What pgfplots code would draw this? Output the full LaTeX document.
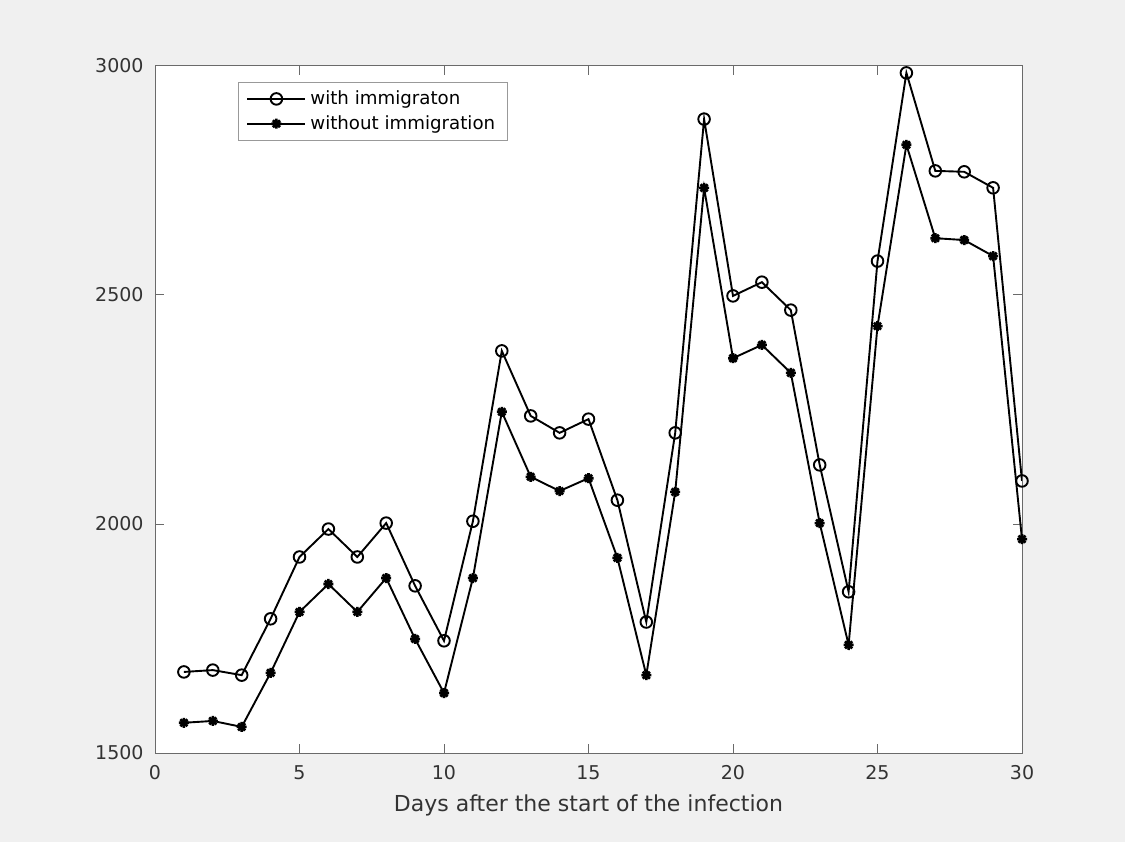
\documentclass[border=0pt]{standalone}
\usepackage{pgfplots}
\pgfplotsset{compat=1.18}
\usepackage{fontspec}
\setmainfont{DejaVu Sans}
\definecolor{figbg}{HTML}{F0F0F0}
\definecolor{axcol}{HTML}{6A6A6A}
\definecolor{txtcol}{HTML}{333333}
\pgfdeclareplotmark{mstar}{%
  \pgfpathmoveto{\pgfpoint{-\pgfplotmarksize}{0pt}}\pgfpathlineto{\pgfpoint{\pgfplotmarksize}{0pt}}%
  \pgfpathmoveto{\pgfpoint{0pt}{-\pgfplotmarksize}}\pgfpathlineto{\pgfpoint{0pt}{\pgfplotmarksize}}%
  \pgfpathmoveto{\pgfpoint{-0.7071\pgfplotmarksize}{-0.7071\pgfplotmarksize}}\pgfpathlineto{\pgfpoint{0.7071\pgfplotmarksize}{0.7071\pgfplotmarksize}}%
  \pgfpathmoveto{\pgfpoint{-0.7071\pgfplotmarksize}{0.7071\pgfplotmarksize}}\pgfpathlineto{\pgfpoint{0.7071\pgfplotmarksize}{-0.7071\pgfplotmarksize}}%
  \pgfusepathqstroke}
\begin{document}
\begin{tikzpicture}
\fill[figbg] (0,0) rectangle (562.5pt,421pt);
\begin{axis}[
  at={(77.5pt,44.5pt)}, anchor=south west,
  scale only axis, width=433.5pt, height=343.5pt,
  axis background/.style={fill=white},
  xmin=0, xmax=30, ymin=1500, ymax=3000,
  xtick={0,5,...,30}, ytick={1500,2000,2500,3000},
  tick align=inside, major tick length=4.3pt,
  axis line style={axcol, line width=0.5pt},
  every tick/.style={axcol, line width=0.5pt},
  tick label style={font=\fontsize{9.5}{11}\selectfont, text=txtcol},
  /pgf/number format/assume math mode=true,
  /pgf/number format/set thousands separator={},
  xticklabel style={inner ysep=0pt, yshift=-6pt},
  yticklabel style={inner xsep=0pt, xshift=-5.5pt},
  xlabel={Days after the start of the infection},
  xlabel style={font=\fontsize{11}{13}\selectfont, text=txtcol, at={(axis description cs:0.5,0)}, anchor=north, inner sep=0pt, yshift=-20.5pt},
  legend style={at={(0.0957,0.9767)}, anchor=north west, draw=gray!80, line width=0.5pt, fill=white,
    font=\fontsize{9.1}{10.5}\selectfont, inner xsep=4pt, inner ysep=2pt, row sep=0pt,
    cells={anchor=west}},
  legend image code/.code={\draw[mark repeat=2,mark phase=2] plot coordinates {(0pt,0pt)(14.5pt,0pt)(29pt,0pt)};},
]
\addplot[black, line width=0.95pt, mark=o, mark size=2.9pt, mark options={solid}] coordinates {
(1,1677)(2,1681)(3,1670)(4,1793)(5,1928)(6,1989)(7,1928)(8,2002)(9,1865)(10,1745)
(11,2006)(12,2378)(13,2236)(14,2199)(15,2229)(16,2052)(17,1786)(18,2199)(19,2884)(20,2498)
(21,2528)(22,2467)(23,2129)(24,1852)(25,2574)(26,2985)(27,2771)(28,2769)(29,2734)(30,2094)};
\addlegendentry{with immigraton}
\addplot[black, line width=0.95pt, mark=mstar, mark size=2.5pt, mark options={solid, line width=1.3pt}] coordinates {
(1,1566)(2,1570)(3,1557)(4,1675)(5,1808)(6,1869)(7,1808)(8,1882)(9,1749)(10,1631)
(11,1882)(12,2245)(13,2103)(14,2072)(15,2100)(16,1926)(17,1670)(18,2070)(19,2734)(20,2362)
(21,2391)(22,2330)(23,2002)(24,1736)(25,2432)(26,2828)(27,2624)(28,2620)(29,2585)(30,1967)};
\addlegendentry{without immigration}
\end{axis}
\end{tikzpicture}
\end{document}
